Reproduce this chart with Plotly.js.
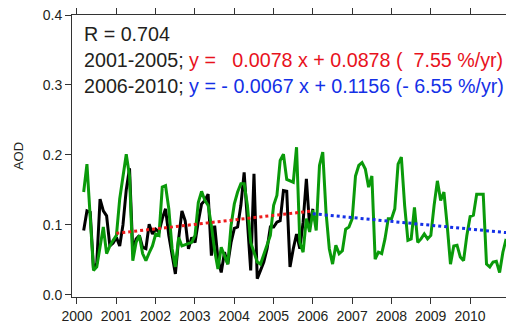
<!DOCTYPE html>
<html>
<head>
<meta charset="utf-8">
<script src="https://cdn.plot.ly/plotly-3.0.1.min.js"></script>
<style>
html,body{margin:0;padding:0;background:#fff;}
#chart{width:506px;height:324px;}
</style>
</head>
<body>
<div id="chart"></div>
<script>
// Monthly AOD, first month = March 2000
const startYear = 2000.17;
const monthStep = 1 / 12;

const greenAOD = [
  0.147, 0.187, 0.111, 0.035, 0.040, 0.068, 0.097, 0.059, 0.070, 0.078,
  0.085, 0.137, 0.170, 0.201, 0.170, 0.049, 0.075, 0.085, 0.059, 0.049,
  0.060, 0.070, 0.087, 0.085, 0.154, 0.156, 0.123, 0.066, 0.040, 0.082,
  0.070, 0.072, 0.073, 0.075, 0.085, 0.132, 0.148, 0.135, 0.128, 0.099,
  0.063, 0.037, 0.068, 0.056, 0.044, 0.099, 0.130, 0.147, 0.159, 0.159,
  0.128, 0.075, 0.060, 0.047, 0.044, 0.057, 0.070, 0.085, 0.128, 0.142,
  0.192, 0.201, 0.165, 0.163, 0.161, 0.211, 0.075, 0.061, 0.109, 0.090,
  0.121, 0.092, 0.185, 0.204, 0.118, 0.066, 0.044, 0.071, 0.059, 0.063,
  0.094, 0.097, 0.109, 0.170, 0.185, 0.189, 0.180, 0.154, 0.170, 0.051,
  0.061, 0.059, 0.080, 0.109, 0.109, 0.123, 0.187, 0.197, 0.128, 0.078,
  0.080, 0.125, 0.075, 0.080, 0.087, 0.080, 0.085, 0.128, 0.163, 0.135,
  0.147, 0.099, 0.044, 0.070, 0.071, 0.054, 0.049, 0.085, 0.112, 0.114,
  0.144, 0.144, 0.144, 0.044, 0.040, 0.047, 0.048, 0.032, 0.061, 0.080
];

const blackAOD = [
  0.092, 0.120, 0.118, 0.037, 0.045, 0.137, 0.120, 0.113, 0.070, 0.074,
  0.082, 0.070, 0.100, 0.150, 0.181, 0.061, 0.080, 0.085, 0.068, 0.066,
  0.101, 0.087, 0.094, 0.090, 0.109, 0.123, 0.085, 0.055, 0.030, 0.080,
  0.120, 0.106, 0.066, 0.082, 0.075, 0.105, 0.130, 0.135, 0.144, 0.056,
  0.099, 0.051, 0.032, 0.061, 0.044, 0.075, 0.095, 0.097, 0.128, 0.175,
  0.110, 0.035, 0.173, 0.023, 0.035, 0.047, 0.066, 0.097, 0.097, 0.104,
  0.106, 0.149, 0.148, 0.040, 0.066, 0.087, 0.066, 0.104, 0.166, 0.097,
  0.123
];

const trend1X = [2001.0, 2006.0];
const trend1Y = [0.088, 0.120];
const trend2X = [2006.0, 2010.92];
const trend2Y = [0.116, 0.089];

const xTicks = [2000, 2001, 2002, 2003, 2004, 2005, 2006, 2007, 2008, 2009, 2010];
const yTicks = [0.0, 0.1, 0.2, 0.3, 0.4];
const yTickText = ['0.0', '0.1', '0.2', '0.3', '0.4'];

const labelR = 'R = 0.704';
const label1a = '2001-2005; ';
const label1b = 'y =&nbsp;&nbsp;&nbsp;0.0078 x + 0.0878 (&nbsp;&nbsp;7.55 %/yr)';
const label2a = '2006-2010; ';
const label2b = 'y = - 0.0067 x + 0.1156 (- 6.55 %/yr)';

const traces = [
  {x0: startYear, dx: monthStep, y: blackAOD, type: 'scatter', mode: 'lines',
   line: {color: '#000000', width: 3}, hoverinfo: 'skip'},
  {x0: startYear, dx: monthStep, y: greenAOD, type: 'scatter', mode: 'lines',
   line: {color: '#0a9a0a', width: 3}, hoverinfo: 'skip'},
  {x: trend1X, y: trend1Y, type: 'scatter', mode: 'lines',
   line: {color: '#ee1c1c', width: 3, dash: 'dot'}, hoverinfo: 'skip'},
  {x: trend2X, y: trend2Y, type: 'scatter', mode: 'lines',
   line: {color: '#1430e6', width: 3, dash: 'dot'}, hoverinfo: 'skip'}
];

const fontFam = 'Liberation Sans, Arial, Helvetica, sans-serif';
const txtCol = '#231f20';
const legSize = 19.7;

const layout = {
  width: 506, height: 324,
  margin: {l: 72, r: 0, t: 15, b: 27, pad: 0},
  paper_bgcolor: '#ffffff', plot_bgcolor: '#ffffff',
  showlegend: false,
  font: {family: fontFam, color: txtCol, size: 14},
  xaxis: {
    range: [1999.873, 2010.916], showgrid: false, zeroline: false,
    tickmode: 'array', tickvals: xTicks, ticktext: xTicks.map(String),
    ticks: 'outside', ticklen: 6, tickwidth: 1, tickcolor: '#333',
    showline: true, linecolor: '#333', linewidth: 1, mirror: 'ticks',
    tickfont: {size: 14, family: fontFam, color: txtCol}
  },
  yaxis: {
    range: [-0.003, 0.4], showgrid: false, zeroline: false,
    tickmode: 'array', tickvals: yTicks, ticktext: yTickText,
    ticks: 'outside', ticklen: 6, tickwidth: 1, tickcolor: '#333',
    showline: true, linecolor: '#333', linewidth: 1,
    tickfont: {size: 14, family: fontFam, color: txtCol},
    title: {text: 'AOD', font: {size: 13, family: fontFam, color: txtCol}, standoff: 16}
  },
  annotations: [
    {xref: 'paper', yref: 'paper', x: 0.022, y: (297 - 34) / 282, xanchor: 'left', yanchor: 'middle',
     text: labelR, showarrow: false, font: {size: legSize, family: fontFam, color: txtCol}},
    {xref: 'paper', yref: 'paper', x: 0.022, y: (297 - 60) / 282, xanchor: 'left', yanchor: 'middle',
     text: label1a + '<span style="color:#e8121c">' + label1b + '</span>', showarrow: false,
     font: {size: legSize, family: fontFam, color: txtCol}},
    {xref: 'paper', yref: 'paper', x: 0.022, y: (297 - 86) / 282, xanchor: 'left', yanchor: 'middle',
     text: label2a + '<span style="color:#1430e6">' + label2b + '</span>', showarrow: false,
     font: {size: legSize, family: fontFam, color: txtCol}}
  ]
};

Plotly.newPlot('chart', traces, layout, {staticPlot: true, displayModeBar: false});
</script>
</body>
</html>
